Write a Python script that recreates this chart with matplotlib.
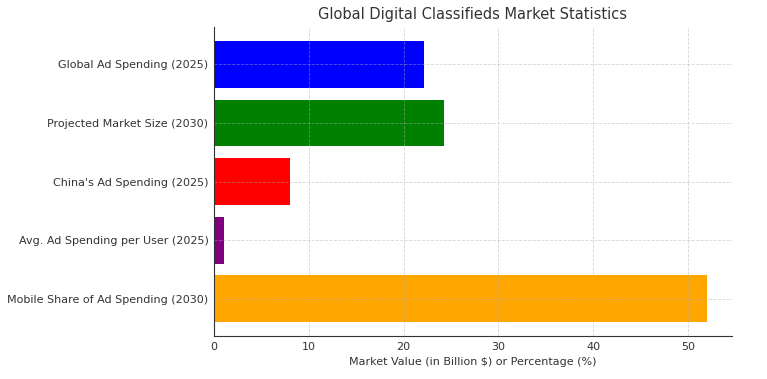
#!/usr/bin/env python3
import matplotlib
matplotlib.use('Agg')
import matplotlib.pyplot as plt

categories = ['Global Ad Spending (2025)', 'Projected Market Size (2030)',
              "China's Ad Spending (2025)", 'Avg. Ad Spending per User (2025)',
              'Mobile Share of Ad Spending (2030)']
values = [22.1, 24.3, 8.0, 1.05, 52.0]
colors = ['blue', 'green', 'red', 'purple', 'orange']

text_color = '#333333'
plt.rcParams['text.color'] = text_color
plt.rcParams['axes.labelcolor'] = text_color
plt.rcParams['xtick.color'] = text_color
plt.rcParams['ytick.color'] = text_color

fig = plt.figure(figsize=(7.67, 3.79), dpi=100)
ax = fig.add_axes([0.279, 0.113, 0.675, 0.816])

ax.barh(categories, values, color=colors)
ax.invert_yaxis()

ax.set_xlabel('Market Value (in Billion $) or Percentage (%)', fontsize=8)
ax.set_title('Global Digital Classifieds Market Statistics', fontsize=10.5)
ax.tick_params(axis='both', length=0, labelsize=8, pad=4)
ax.grid(True, linestyle='--', color='#b0b0b0', linewidth=0.6, alpha=0.5)
ax.set_axisbelow(False)
for side in ['top', 'right']:
    ax.spines[side].set_visible(False)
for side in ['left', 'bottom']:
    ax.spines[side].set_color(text_color)
    ax.spines[side].set_zorder(5)

plt.savefig('out.png', dpi=100)
plt.close()
